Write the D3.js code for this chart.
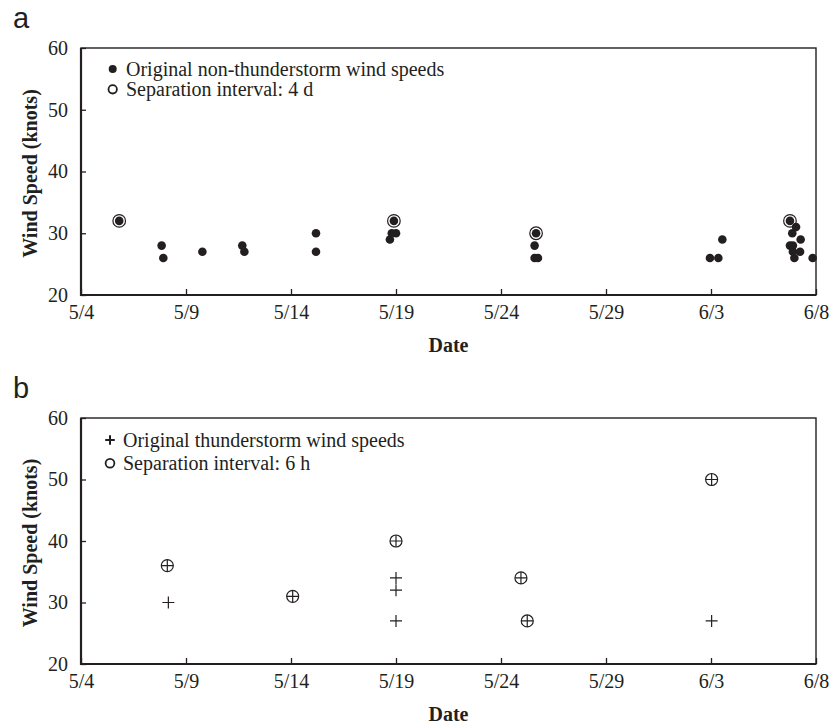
<!DOCTYPE html>
<html>
<head>
<meta charset="utf-8">
<script src="https://cdn.jsdelivr.net/npm/d3@7"></script>
<style>
  html, body { margin: 0; padding: 0; background: #fff; }
  svg { display: block; }
  .tick text { font-family: "Liberation Serif", "Times New Roman", serif; font-size: 20px; fill: #231f20; }
</style>
</head>
<body>
<svg id="chart" width="833" height="728"></svg>
<script>
// Days are counted from 5/4 (day 0).
const dayTicks = [0, 5, 10, 15, 20, 25, 30, 35];
const dayTickLabels = ["5/4", "5/9", "5/14", "5/19", "5/24", "5/29", "6/3", "6/8"];
const speedTicks = [20, 30, 40, 50, 60];

// Panel a: non-thunderstorm wind speeds [day, knots]
const nonStormDays = [1.82, 3.84, 3.92, 5.78, 7.68, 7.78, 11.19, 11.19, 14.71, 14.80, 15.00, 14.90,
  21.60, 21.60, 21.76, 21.67, 29.95, 30.35, 30.54, 33.76, 34.05, 33.87, 34.27, 33.76, 33.90, 33.90, 34.24, 33.97, 34.84];
const nonStormSpeeds = [32, 28, 26, 27, 28, 27, 30, 27, 29, 30, 30, 32,
  28, 26, 26, 30, 26, 26, 29, 32, 31, 30, 29, 28, 28, 27, 27, 26, 26];
// Peaks kept with a 4-day separation interval
const nonStormSepDays = [1.82, 14.90, 21.67, 33.76];
const nonStormSepSpeeds = [32, 32, 30, 32];

// Panel b: thunderstorm wind speeds
const stormDays = [4.11, 4.16, 10.08, 15.00, 15.00, 15.00, 15.00, 20.95, 21.25, 30.03, 30.03];
const stormSpeeds = [36, 30, 31, 40, 34, 32, 27, 34, 27, 50, 27];
// Peaks kept with a 6-hour separation interval
const stormSepDays = [4.11, 10.08, 15.00, 20.95, 21.25, 30.03];
const stormSepSpeeds = [36, 31, 40, 34, 27, 50];

const ink = "#231f20";
const serif = '"Liberation Serif", "Times New Roman", serif';
const sans = '"Liberation Sans", Arial, sans-serif';

const svg = d3.select("#chart");
const left = 81, right = 816;
const x = d3.scaleLinear().domain([0, 35]).range([left, right]);

function zip(a, b) { return a.map((v, i) => [v, b[i]]); }

function panel(opts) {
  const { top, bottom, label, legend, draw } = opts;
  const y = d3.scaleLinear().domain([20, 60]).range([bottom, top]);
  const g = svg.append("g");

  // panel letter
  g.append("text").attr("x", 13).attr("y", top - 20)
    .attr("font-family", sans).attr("font-size", 29).attr("fill", ink)
    .text(label);

  // axes with inward ticks
  const ya = g.append("g").attr("transform", `translate(${left},0)`)
    .call(d3.axisLeft(y).tickValues(speedTicks).tickSizeInner(-5).tickSizeOuter(0).tickPadding(13));
  const xa = g.append("g").attr("transform", `translate(0,${bottom})`)
    .call(d3.axisBottom(x).tickValues(dayTicks).tickFormat((d, i) => dayTickLabels[i])
      .tickSizeInner(-6).tickSizeOuter(0).tickPadding(10));
  [ya, xa].forEach(a => {
    a.select(".domain").remove();
    a.selectAll(".tick line").attr("stroke", ink).attr("stroke-width", 1.3);
  });

  // frame
  g.append("rect").attr("x", left).attr("y", y(60))
    .attr("width", right - left).attr("height", y(20) - y(60))
    .attr("fill", "none").attr("stroke", ink).attr("stroke-width", 1.4);
  g.append("path")
    .attr("d", `M${left},${y(60)}V${y(20)}H${right}`)
    .attr("fill", "none").attr("stroke", ink).attr("stroke-width", 2.2);

  // axis titles
  g.append("text")
    .attr("transform", `translate(37,${(y(20) + y(60)) / 2 + 2}) rotate(-90)`)
    .attr("text-anchor", "middle").attr("font-family", serif).attr("font-weight", "bold")
    .attr("font-size", 20).attr("fill", ink).text("Wind Speed (knots)");
  g.append("text")
    .attr("x", (left + right) / 2).attr("y", bottom + 57)
    .attr("text-anchor", "middle").attr("font-family", serif).attr("font-weight", "bold")
    .attr("font-size", 20).attr("fill", ink).text("Date");

  draw(g, y);

  // legend
  legend.forEach((row, i) => {
    const ly = top + row.dy;
    row.marker(g, row.mx, ly);
    g.append("text").attr("x", row.tx).attr("y", ly + 6.5)
      .attr("font-family", serif).attr("font-size", 20).attr("fill", ink)
      .text(row.text);
  });
}

function dot(g, cx, cy, r) {
  g.append("circle").attr("cx", cx).attr("cy", cy).attr("r", r).attr("fill", ink);
}
function ring(g, cx, cy, r, w) {
  g.append("circle").attr("cx", cx).attr("cy", cy).attr("r", r)
    .attr("fill", "none").attr("stroke", ink).attr("stroke-width", w);
}
function plus(g, cx, cy, h, w) {
  g.append("path").attr("d", `M${cx - h},${cy}H${cx + h}M${cx},${cy - h}V${cy + h}`)
    .attr("stroke", ink).attr("stroke-width", w).attr("fill", "none");
}

// Panel a
panel({
  top: 48, bottom: 295, label: "a",
  legend: [
    { dy: 21, mx: 112.7, tx: 126, text: "Original non-thunderstorm wind speeds", marker: (g, cx, cy) => dot(g, cx, cy, 4) },
    { dy: 41.3, mx: 112.7, tx: 126, text: "Separation interval: 4 d", marker: (g, cx, cy) => ring(g, cx, cy, 4.2, 1.8) }
  ],
  draw: (g, y) => {
    const pts = g.append("g");
    zip(nonStormDays, nonStormSpeeds).forEach(([d, v]) => dot(pts, x(d), y(v), 4.3));
    zip(nonStormSepDays, nonStormSepSpeeds).forEach(([d, v]) => ring(pts, x(d), y(v), 6.3, 1.2));
  }
});

// Panel b
panel({
  top: 418, bottom: 664, label: "b",
  legend: [
    { dy: 22, mx: 110, tx: 123, text: "Original thunderstorm wind speeds", marker: (g, cx, cy) => plus(g, cx, cy, 4.8, 2) },
    { dy: 45.3, mx: 110, tx: 123, text: "Separation interval: 6 h", marker: (g, cx, cy) => ring(g, cx, cy, 4.4, 1.8) }
  ],
  draw: (g, y) => {
    const pts = g.append("g");
    zip(stormDays, stormSpeeds).forEach(([d, v]) => plus(pts, x(d), y(v), 6, 1.2));
    zip(stormSepDays, stormSepSpeeds).forEach(([d, v]) => ring(pts, x(d), y(v), 6, 1.2));
  }
});
</script>
</body>
</html>
